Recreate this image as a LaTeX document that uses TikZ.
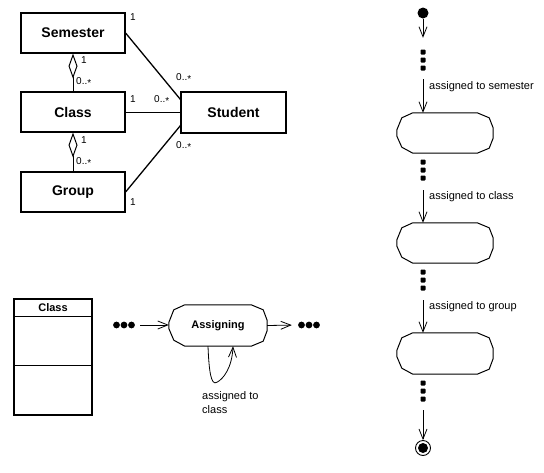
\documentclass[tikz,border=0pt]{standalone}
\usepackage{fontspec}
\setmainfont{Liberation Sans}
\usetikzlibrary{arrows.meta,calc}
\newcommand\stateoutline[1]{%
  \draw[line width=1pt] ($(#1.north west)+(16,0)$) -- ($(#1.north east)+(-16,0)$) -- ($(#1.north east)+(-4,5)$) -- ($(#1.east)+(0,-5)$) -- ($(#1.east)+(0,5)$) -- ($(#1.south east)+(-4,-5)$) -- ($(#1.south east)+(-16,0)$) -- ($(#1.south west)+(16,0)$) -- ($(#1.south west)+(5,-6)$) -- ($(#1.west)+(0,3)$) -- ($(#1.west)+(0,-3)$) -- ($(#1.north west)+(5,5)$) -- cycle;}
\newcommand\vdotsat[1]{%
  \foreach \d in {-8,0,8} {\fill[rounded corners=0.8pt] ($(#1.center)+(-2.5,\d-2.5)$) rectangle +(5,5);}}
\newcommand\hdotsat[1]{%
  \foreach \d in {-7.5,0,7.5} {\fill ($(#1.center)+(\d,0)$) circle (3.4);}}
\begin{document}
\begin{tikzpicture}[x=1pt,y=-1pt,
  box/.style={draw,line width=1.2pt,minimum width=104pt,minimum height=40pt,inner sep=0pt,font=\fontsize{14}{16}\selectfont\bfseries},
  mult/.style={font=\fontsize{10}{12}\selectfont,inner sep=0pt,anchor=west},
  lbl/.style={font=\fontsize{11}{13}\selectfont,inner sep=0pt,anchor=west},
  assoc/.style={line width=1.3pt},
  agg/.style={line width=1pt,{Diamond[open,length=25pt,width=9pt]}-},
  arr/.style={line width=0.8pt,-{Straight Barb[length=10pt,width=8pt]}},
  statebox/.style={minimum width=96pt,minimum height=40pt,inner sep=0pt},
  dotsv/.style={minimum width=6pt,minimum height=22pt,inner sep=0pt},
  dotsh/.style={minimum width=22pt,minimum height=7pt,inner sep=0pt},
]
\useasboundingbox (0,0) rectangle (544,472);

% ---------- class diagram ----------
\node[box] (sem) at (73,33) {Semester};
\node[box] (cls) at (73,112) {Class};
\node[box] (grp) at (73,192) {Group};
\node[box,minimum width=105pt,minimum height=41pt] (stu) at (233.5,112.5) {Student};

\draw[agg] (sem.south) -- (cls.north);
\draw[agg] (cls.south) -- (grp.north);
\draw[assoc] (sem.east) -- ([yshift=-8pt]stu.north west);
\draw[line width=0.8pt] (cls.east) -- (cls.east -| stu.west);
\draw[assoc] (grp.east) -- ([yshift=8pt]stu.south west);

\node[mult] (m1) at (130,17) {1};
\node[mult] (m2) at (176,78) {0..\raisebox{-0.25ex}{*}};
\node[mult] (m3) at (130,99) {1};
\node[mult] (m4) at (154,100) {0..\raisebox{-0.25ex}{*}};
\node[mult] (m5) at (176,146) {0..\raisebox{-0.25ex}{*}};
\node[mult] (m6) at (130,202) {1};
\node[mult] (m7) at (81,60) {1};
\node[mult] (m8) at (76,82) {0..\raisebox{-0.25ex}{*}};
\node[mult] (m9) at (81,140) {1};
\node[mult] (m10) at (76,162) {0..\raisebox{-0.25ex}{*}};

% ---------- class symbol ----------
\node[draw,line width=1.2pt,minimum width=78pt,minimum height=116pt,inner sep=0pt] (cbox) at (53,357) {};
\draw[line width=1.2pt] ($(cbox.north west)+(0,18)$) coordinate (cs1) -- (cs1 -| cbox.east);
\draw[line width=1.2pt] ($(cbox.north west)+(0,67)$) coordinate (cs2) -- (cs2 -| cbox.east);
\node[font=\fontsize{11}{13}\selectfont\bfseries,inner sep=0pt] (ctitle) at (53,307.5) {Class};

% ---------- Assigning state ----------
\node[dotsh] (hd1) at (124,325) {};
\hdotsat{hd1}
\node[statebox,minimum width=98pt,minimum height=41pt,font=\fontsize{11}{13}\selectfont\bfseries] (asg) at (218,325.5) {Assigning};
\stateoutline{asg}
\node[dotsh] (hd2) at (309,325) {};
\hdotsat{hd2}
\draw[arr,shorten <=5pt] (hd1.east) -- (hd1.east -| asg.west);
\draw[arr,shorten >=6pt] (asg.east) -- (hd2.west);
\draw[arr] ($(asg.south)+(-10,0)$) .. controls +(1,25) and +(-6,4) .. ($(asg.south)+(-1,36)$) .. controls +(6,-3) and +(-1,22) .. ($(asg.south)+(15,0)$);
\node[lbl,anchor=north west,align=left,font=\fontsize{11}{14}\selectfont] (loopl) at (202,391) {assigned to\\class};

% ---------- activity flow ----------
\node[circle,fill,minimum size=11pt,inner sep=0pt] (start) at (423,13) {};
\node[dotsv] (vd0) at (423,60) {};
\vdotsat{vd0}
\node[statebox] (s1) at (445,133) {};
\stateoutline{s1}
\node[dotsv] (vd1) at (423,170) {};
\vdotsat{vd1}
\node[statebox] (s2) at (445,243) {};
\stateoutline{s2}
\node[dotsv] (vd2) at (423,280) {};
\vdotsat{vd2}
\node[statebox,minimum height=41pt] (s3) at (445,353.5) {};
\stateoutline{s3}
\node[dotsv] (vd3) at (423,391) {};
\vdotsat{vd3}
\node[circle,draw,line width=0.9pt,minimum size=15pt,inner sep=0pt] (fin) at (423,448) {};
\fill (fin.center) circle (5);

\draw[arr] (start.south) -- ([yshift=11pt]vd0.north);
\draw[arr,shorten <=8pt] (vd0.south) -- (vd0.south |- s1.north);
\draw[arr,shorten <=9pt] (vd1.south) -- (vd1.south |- s2.north);
\draw[arr,shorten <=9pt] (vd2.south) -- (vd2.south |- s3.north);
\draw[arr,shorten <=8pt] (vd3.south) -- (fin.north);

\node[lbl] (l1) at (429,87) {assigned to semester};
\node[lbl] (l2) at (429,197) {assigned to class};
\node[lbl] (l3) at (429,307) {assigned to group};
\end{tikzpicture}
\end{document}
